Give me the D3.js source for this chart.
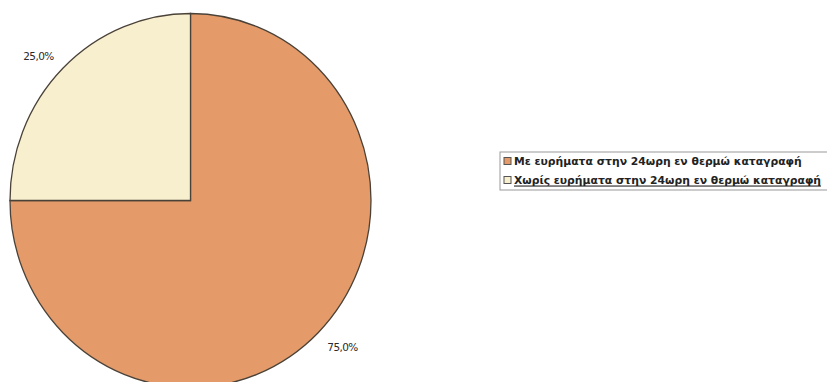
<!DOCTYPE html>
<html>
<head>
<meta charset="utf-8">
<script src="https://cdn.jsdelivr.net/npm/d3@7"></script>
<style>
  html, body { margin: 0; padding: 0; background: #fff; }
  svg { display: block; }
</style>
</head>
<body>
<svg id="chart" width="827" height="382"></svg>
<script>
// Share of 24h hot-recording results
const categories = [
  "Με ευρήματα στην 24ωρη εν θερμώ καταγραφή",
  "Χωρίς ευρήματα στην 24ωρη εν θερμώ καταγραφή"
];
const values = [75.0, 25.0];
const valueLabels = ["75,0%", "25,0%"];
const colors = ["#E49B69", "#F8EFCF"];

const svg = d3.select("#chart");
const cx = 190.5, cy = 200.5, rx = 180.5, ry = 187;

const pie = d3.pie().sort(null).value(d => d)(values);
const arc = d3.arc().innerRadius(0).outerRadius(rx);
const labelArc = d3.arc().innerRadius(215).outerRadius(215);

const g = svg.append("g")
  .attr("transform", `translate(${cx},${cy}) scale(1,${ry / rx})`);

g.selectAll("path.slice")
  .data(pie)
  .join("path")
  .attr("class", "slice")
  .attr("d", arc)
  .attr("fill", (d, i) => colors[i])
  .attr("stroke", "#4a4238")
  .attr("stroke-width", 1.3)
  .attr("stroke-linejoin", "miter");

// percentage labels outside the pie
svg.append("g")
  .selectAll("text")
  .data(pie)
  .join("text")
  .attr("x", d => cx + labelArc.centroid(d)[0])
  .attr("y", d => cy + 1 + labelArc.centroid(d)[1] * 0.96)
  .attr("text-anchor", "middle")
  .attr("dominant-baseline", "central")
  .attr("font-family", "DejaVu Sans, sans-serif")
  .attr("font-size", 10.5)
  .attr("letter-spacing", -0.6)
  .attr("fill", "#2a2a2a")
  .text((d, i) => valueLabels[i]);

// legend
const legend = svg.append("g").attr("transform", "translate(500,152)");
legend.append("rect")
  .attr("x", 0).attr("y", 0)
  .attr("width", 330).attr("height", 38)
  .attr("fill", "#fff")
  .attr("stroke", "#999")
  .attr("stroke-width", 1);

const rows = legend.selectAll("g.row")
  .data(categories)
  .join("g")
  .attr("class", "row")
  .attr("transform", (d, i) => `translate(0,${9 + i * 19})`);

rows.append("rect")
  .attr("x", 4).attr("y", -3.5)
  .attr("width", 7).attr("height", 7)
  .attr("fill", (d, i) => colors[i])
  .attr("stroke", "#555")
  .attr("stroke-width", 1);

rows.append("text")
  .attr("x", 14)
  .attr("y", 0)
  .attr("dominant-baseline", "central")
  .attr("font-family", "DejaVu Sans, sans-serif")
  .attr("font-weight", "bold")
  .attr("font-size", 10.8)
  .attr("fill", "#222")
  .attr("text-decoration", (d, i) => i === 1 ? "underline" : null)
  .text(d => d);
</script>
</body>
</html>
